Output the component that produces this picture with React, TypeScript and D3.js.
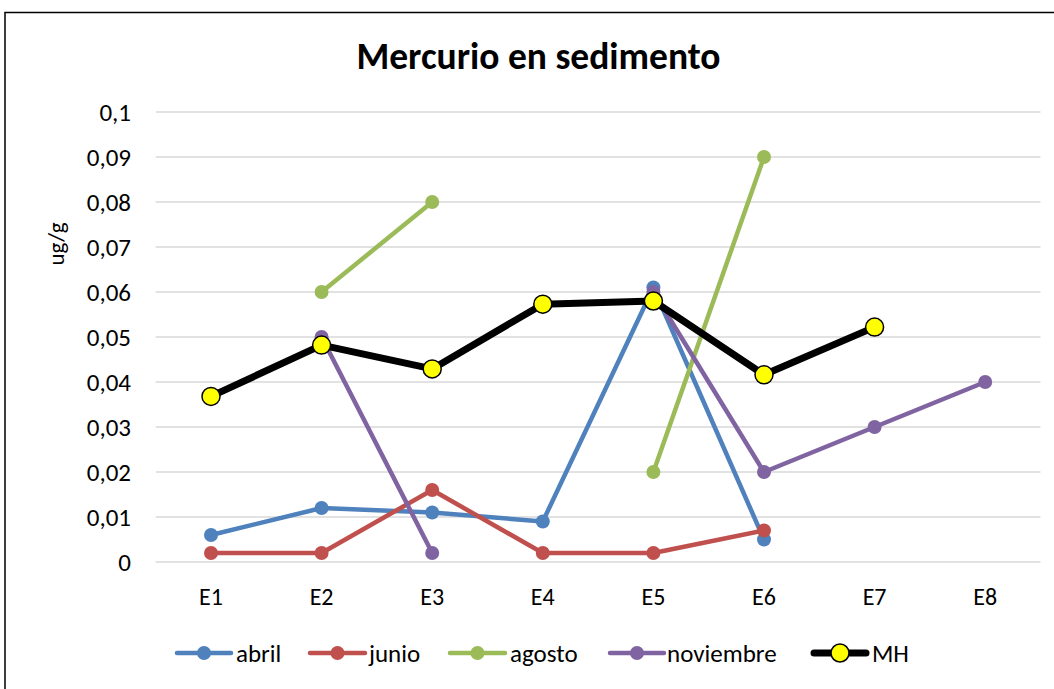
import React from "react";
import * as d3 from "d3";

const categories = ["E1", "E2", "E3", "E4", "E5", "E6", "E7", "E8"];
const abril: (number | null)[] = [0.006, 0.012, 0.011, 0.009, 0.061, 0.005, null, null];
const junio: (number | null)[] = [0.002, 0.002, 0.016, 0.002, 0.002, 0.007, null, null];
const agosto: (number | null)[] = [null, 0.06, 0.08, null, 0.02, 0.09, null, null];
const noviembre: (number | null)[] = [null, 0.05, 0.002, null, 0.06, 0.02, 0.03, 0.04];
const mh: (number | null)[] = [0.0368, 0.0482, 0.0429, 0.0573, 0.058, 0.0416, 0.0522, null];
const yTicks = [0, 0.01, 0.02, 0.03, 0.04, 0.05, 0.06, 0.07, 0.08, 0.09, 0.1];

const seriesList = [
  { name: "abril", values: abril, color: "#4F81BD" },
  { name: "junio", values: junio, color: "#C0504D" },
  { name: "agosto", values: agosto, color: "#9BBB59" },
  { name: "noviembre", values: noviembre, color: "#8064A2" },
];

const FONT = "Carlito, Calibri, 'Liberation Sans Narrow', 'Open Sans', sans-serif";

export default function App() {
  const W = 1054, H = 689;
  const left = 155.7, right = 1040.5, top = 112, bottom = 562;
  const x = d3.scaleBand<string>().domain(categories).range([left, right]).padding(0);
  const y = d3.scaleLinear().domain([0, 0.1]).range([bottom, top]);
  const cx = (i: number) => (x(categories[i]) as number) + x.bandwidth() / 2;
  const line = d3
    .line<number | null>()
    .defined((d) => d !== null)
    .x((_, i) => cx(i))
    .y((d) => y(d as number));
  const fmt = (v: number) => String(v).replace(".", ",");

  const legendItems = [
    { name: "abril", color: "#4F81BD", lx: 177, lx2: 231, tx: 236 },
    { name: "junio", color: "#C0504D", lx: 310, lx2: 365, tx: 369 },
    { name: "agosto", color: "#9BBB59", lx: 450, lx2: 505, tx: 510 },
    { name: "noviembre", color: "#8064A2", lx: 610, lx2: 664, tx: 667 },
  ];

  return (
    <svg width={W} height={H} style={{ position: "absolute", left: 0, top: 0 }} fontFamily={FONT}>
      <rect x={0} y={0} width={W} height={H} fill="#fff" />
      <rect x={5} y={12.5} width={1060} height={700} fill="#fff" stroke="#000" strokeWidth={1.5} />
      <text x={538.5} y={69} textAnchor="middle" fontSize={37.5} fontWeight="bold" fill="#000">
        Mercurio en sedimento
      </text>
      {yTicks.map((t) => (
        <g key={t}>
          <line x1={left} x2={right} y1={y(t)} y2={y(t)} stroke="#D9D9D9" strokeWidth={1.5} />
          <text x={131} y={y(t)} dy="0.35em" textAnchor="end" fontSize={25} fill="#000">
            {fmt(t)}
          </text>
        </g>
      ))}
      {categories.map((c, i) => (
        <text key={c} x={cx(i)} y={605} textAnchor="middle" fontSize={24} fill="#000">
          {c}
        </text>
      ))}
      <text transform="translate(64,244) rotate(-90)" textAnchor="middle" fontSize={23} fill="#000">
        ug/g
      </text>
      {seriesList.map((s) => (
        <g key={s.name}>
          <path d={line(s.values) || ""} fill="none" stroke={s.color} strokeWidth={4.5} strokeLinejoin="round" />
          {s.values.map((v, i) =>
            v === null ? null : <circle key={i} cx={cx(i)} cy={y(v)} r={7} fill={s.color} />
          )}
        </g>
      ))}
      <path d={line(mh) || ""} fill="none" stroke="#000" strokeWidth={7} strokeLinejoin="round" />
      {mh.map((v, i) =>
        v === null ? null : (
          <circle key={i} cx={cx(i)} cy={y(v)} r={9} fill="#FFFF00" stroke="#000" strokeWidth={1.5} />
        )
      )}
      {legendItems.map((l) => (
        <g key={l.name}>
          <line x1={l.lx} x2={l.lx2} y1={653} y2={653} stroke={l.color} strokeWidth={4.5} strokeLinecap="round" />
          <circle cx={(l.lx + l.lx2) / 2} cy={653} r={7} fill={l.color} />
          <text x={l.tx} y={653} dy="0.35em" fontSize={25} fill="#000">
            {l.name}
          </text>
        </g>
      ))}
      <g>
        <line x1={814} x2={866} y1={653} y2={653} stroke="#000" strokeWidth={7} strokeLinecap="round" />
        <circle cx={840} cy={653} r={9} fill="#FFFF00" stroke="#000" strokeWidth={1.5} />
        <text x={872} y={653} dy="0.35em" fontSize={25} fill="#000">
          MH
        </text>
      </g>
    </svg>
  );
}
